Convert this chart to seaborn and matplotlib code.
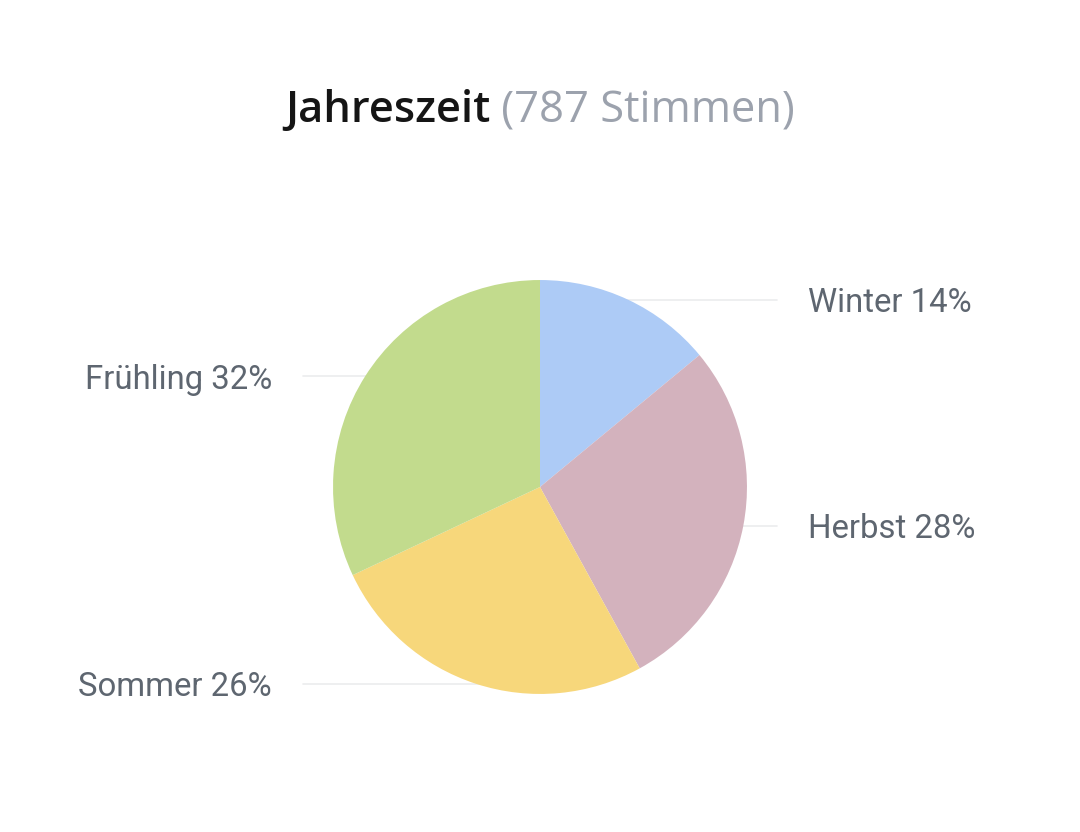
import numpy as np
import matplotlib
matplotlib.use("Agg")
import matplotlib.pyplot as plt
import seaborn as sns

TITLE = "Jahreszeit"
SUBTITLE = "(787 Stimmen)"
SEASONS = ["Winter", "Herbst", "Sommer", "Frühling"]
SHARES = [14, 28, 26, 32]
COLORS = ["#adcbf6", "#d3b2bd", "#f7d77b", "#c2db8d"]

sns.set_theme(style="white")
plt.rcParams["font.family"] = ["Roboto", "DejaVu Sans"]

fig = plt.figure(figsize=(10.8, 8.32), dpi=100)
ax = fig.add_axes([0, 0, 1, 1])

wedges, _ = ax.pie(
    SHARES,
    colors=COLORS,
    startangle=90,
    counterclock=False,
    radius=1.0,
    wedgeprops={"linewidth": 0},
)
for w in wedges:
    w.set_zorder(2)

# pie() resets the limits, so set them afterwards (1 unit = 207 px)
ax.set_xlim(-2.609, 2.609)
ax.set_ylim(-1.667, 2.353)
ax.set_aspect("equal")
ax.axis("off")

label_color = "#5e6670"
for w, name, share in zip(wedges, SEASONS, SHARES):
    mid = np.deg2rad((w.theta1 + w.theta2) / 2)
    y = np.sin(mid)
    side = 1 if np.cos(mid) >= 0 else -1
    ax.plot([0, side * 1.143], [y, y], color="#ebecee", lw=1.2, zorder=1)
    ax.text(
        side * 1.295, y, f"{name} {share}%",
        ha="left" if side > 0 else "right", va="center_baseline",
        fontsize=23.7, color=label_color, family=["Roboto", "DejaVu Sans"],
    )

# two-tone title, centred as a whole
t1 = ax.text(0, 1.763, TITLE, fontsize=31.3, fontweight="semibold", color="#151515",
             family=["Open Sans", "DejaVu Sans"], ha="left", va="baseline")
t2 = ax.text(0, 1.763, " " + SUBTITLE, fontsize=31.3, color="#9ca2ad",
             family=["Open Sans", "DejaVu Sans"], ha="left", va="baseline")
renderer = fig.canvas.get_renderer()
w1 = t1.get_window_extent(renderer).width / 207.0
w2 = t2.get_window_extent(renderer).width / 207.0
start = -(w1 + w2) / 2
t1.set_x(start)
t2.set_x(start + w1)

fig.savefig("out.png", dpi=100, facecolor="white")
